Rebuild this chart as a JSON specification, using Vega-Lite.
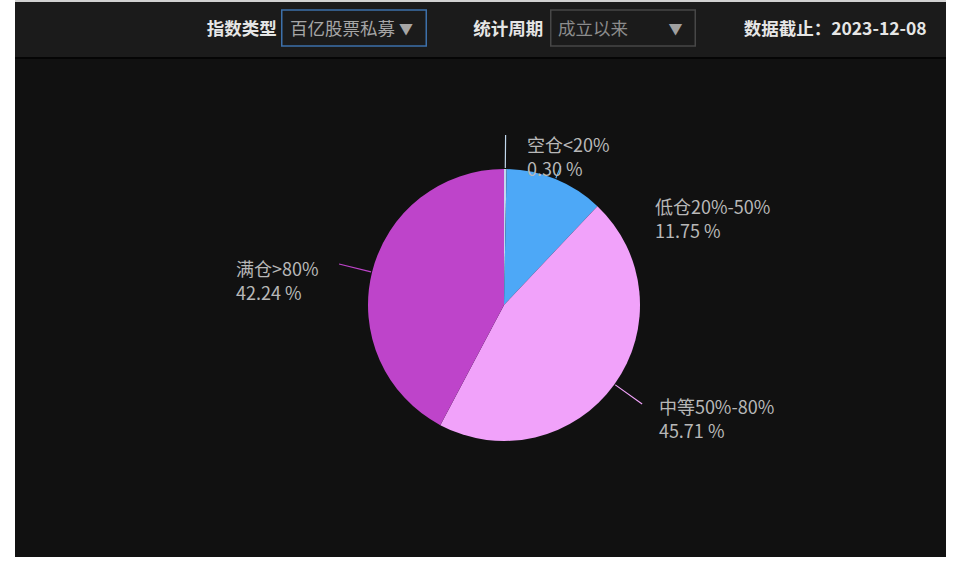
{
  "$schema": "https://vega.github.io/schema/vega-lite/v6.json",
  "background": "#ffffff",
  "padding": {"left": 15, "top": 0, "right": 14, "bottom": 9},
  "spacing": 0,
  "config": {
    "view": {"stroke": null},
    "concat": {"spacing": 0},
    "font": "Noto Sans CJK SC"
  },
  "datasets": {
    "positions": [
      {"idx": 1, "category": "空仓<20%", "pct": 0.30, "label": "空仓<20%\n0.30 %"},
      {"idx": 2, "category": "低仓20%-50%", "pct": 11.75, "label": "低仓20%-50%\n11.75 %"},
      {"idx": 3, "category": "中等50%-80%", "pct": 45.71, "label": "中等50%-80%\n45.71 %"},
      {"idx": 4, "category": "满仓>80%", "pct": 42.24, "label": "满仓>80%\n42.24 %"}
    ],
    "header": [
      {"id": "type_label", "text": "指数类型"},
      {"id": "type_value", "text": "百亿股票私募"},
      {"id": "type_arrow", "text": "▼"},
      {"id": "period_label", "text": "统计周期"},
      {"id": "period_value", "text": "成立以来"},
      {"id": "period_arrow", "text": "▼"},
      {"id": "date", "text": "数据截止：2023-12-08"}
    ]
  },
  "vconcat": [
    {
      "width": 931,
      "height": 2,
      "view": {"fill": "#d2d2d2"},
      "data": {"values": []},
      "mark": {"type": "point", "clip": true}
    },
    {
      "spacing": 0,
      "hconcat": [
        {
          "width": 266,
          "height": 55,
          "view": {"fill": "#1b1b1b"},
          "data": {"name": "header"},
          "transform": [{"filter": "datum.id === 'type_label'"}],
          "mark": {"type": "text", "clip": true, "align": "right", "baseline": "middle", "dx": 128.7, "fontSize": 17.5, "fontWeight": "bold", "color": "#e6e6e6"},
          "encoding": {"text": {"field": "text"}}
        },
        {
          "width": 146,
          "height": 55,
          "view": {"fill": "#1b1b1b"},
          "data": {"name": "header"},
          "layer": [
            {
              "transform": [{"filter": "datum.id === 'type_value'"}],
              "mark": {"type": "point", "clip": true, "shape": "M-1,-0.249H1V0.249H-1Z", "size": 20880, "filled": false, "opacity": 1, "color": "#3d70aa", "strokeWidth": 1.5, "yOffset": -1.5}
            },
            {
              "transform": [{"filter": "datum.id === 'type_value'"}],
              "mark": {"type": "text", "clip": true, "align": "left", "baseline": "middle", "dx": -64, "fontSize": 17.5, "color": "#a6a6a6"},
              "encoding": {"text": {"field": "text"}}
            },
            {
              "transform": [{"filter": "datum.id === 'type_arrow'"}],
              "mark": {"type": "text", "clip": true, "align": "center", "baseline": "middle", "dx": 52, "fontSize": 14, "color": "#a6a6a6"},
              "encoding": {"text": {"field": "text"}}
            }
          ]
        },
        {
          "width": 123,
          "height": 55,
          "view": {"fill": "#1b1b1b"},
          "data": {"name": "header"},
          "transform": [{"filter": "datum.id === 'period_label'"}],
          "mark": {"type": "text", "clip": true, "align": "right", "baseline": "middle", "dx": 54.8, "fontSize": 17.5, "fontWeight": "bold", "color": "#e6e6e6"},
          "encoding": {"text": {"field": "text"}}
        },
        {
          "width": 146,
          "height": 55,
          "view": {"fill": "#1b1b1b"},
          "data": {"name": "header"},
          "layer": [
            {
              "transform": [{"filter": "datum.id === 'period_value'"}],
              "mark": {"type": "point", "clip": true, "shape": "M-1,-0.249H1V0.249H-1Z", "size": 20880, "filled": false, "opacity": 1, "color": "#474747", "strokeWidth": 1.5, "yOffset": -1.5}
            },
            {
              "transform": [{"filter": "datum.id === 'period_value'"}],
              "mark": {"type": "text", "clip": true, "align": "left", "baseline": "middle", "dx": -65, "fontSize": 17.5, "color": "#8c8c8c"},
              "encoding": {"text": {"field": "text"}}
            },
            {
              "transform": [{"filter": "datum.id === 'period_arrow'"}],
              "mark": {"type": "text", "clip": true, "align": "center", "baseline": "middle", "dx": 52.5, "fontSize": 14, "color": "#a0a0a0"},
              "encoding": {"text": {"field": "text"}}
            }
          ]
        },
        {
          "width": 250,
          "height": 55,
          "view": {"fill": "#1b1b1b"},
          "data": {"name": "header"},
          "transform": [{"filter": "datum.id === 'date'"}],
          "mark": {"type": "text", "clip": true, "align": "right", "baseline": "middle", "dx": 105.7, "fontSize": 17.5, "fontWeight": "bold", "color": "#e6e6e6"},
          "encoding": {"text": {"field": "text"}}
        }
      ]
    },
    {
      "width": 931,
      "height": 2,
      "view": {"fill": "#050505"},
      "data": {"values": []},
      "mark": {"type": "point", "clip": true}
    },
    {
      "width": 931,
      "height": 498,
      "view": {"fill": "#111111"},
      "data": {"name": "positions"},
      "encoding": {
        "theta": {"field": "pct", "type": "quantitative", "stack": true},
        "order": {"field": "idx", "type": "quantitative"}
      },
      "layer": [
        {
          "mark": {"type": "arc", "outerRadius": 136, "xOffset": 23.5, "yOffset": -3},
          "encoding": {
            "color": {
              "field": "category",
              "type": "nominal",
              "scale": {
                "domain": ["空仓<20%", "低仓20%-50%", "中等50%-80%", "满仓>80%"],
                "range": ["#c2d8ee", "#4da8f7", "#f1a2fa", "#be44ca"]
              },
              "legend": null
            }
          }
        },
        {
          "mark": {"type": "arc", "innerRadius": 137, "outerRadius": 170, "padAngle": 3.1416, "filled": false, "strokeWidth": 1.2, "xOffset": 23.5, "yOffset": -3},
          "encoding": {
            "color": {"field": "category", "type": "nominal", "legend": null},
            "strokeOpacity": {"condition": {"test": "datum.idx !== 2", "value": 1}, "value": 0}
          }
        },
        {
          "mark": {"type": "arc", "innerRadius": 137, "outerRadius": 150, "padAngle": 3.1416, "filled": false, "strokeWidth": 1.2, "xOffset": 23.5, "yOffset": -3},
          "encoding": {
            "color": {"field": "category", "type": "nominal", "legend": null},
            "strokeOpacity": {"condition": {"test": "datum.idx === 2", "value": 1}, "value": 0}
          }
        },
        {
          "mark": {"type": "text", "radius": 175, "align": "left", "baseline": "top", "lineBreak": "\n", "lineHeight": 24, "fontSize": 18, "color": "#b8b8b8", "xOffset": 23.5, "yOffset": -3, "dx": 21.4, "dy": 7.5},
          "encoding": {
            "detail": {"field": "category"},
            "text": {"condition": {"test": "datum.idx === 1", "field": "label"}, "value": ""}
          }
        },
        {
          "mark": {"type": "text", "radius": 175, "align": "left", "baseline": "top", "lineBreak": "\n", "lineHeight": 24, "fontSize": 18, "color": "#b8b8b8", "xOffset": 23.5, "yOffset": -3, "dx": 84.8, "dy": 56.5},
          "encoding": {
            "detail": {"field": "category"},
            "text": {"condition": {"test": "datum.idx === 2", "field": "label"}, "value": ""}
          }
        },
        {
          "mark": {"type": "text", "radius": 175, "align": "left", "baseline": "top", "lineBreak": "\n", "lineHeight": 24, "fontSize": 18, "color": "#b8b8b8", "xOffset": 23.5, "yOffset": -3, "dx": 12.7, "dy": -7.4},
          "encoding": {
            "detail": {"field": "category"},
            "text": {"condition": {"test": "datum.idx === 3", "field": "label"}, "value": ""}
          }
        },
        {
          "mark": {"type": "text", "radius": 175, "align": "left", "baseline": "top", "lineBreak": "\n", "lineHeight": 24, "fontSize": 18, "color": "#b8b8b8", "xOffset": 23.5, "yOffset": -3, "dx": -98.2, "dy": -0.3},
          "encoding": {
            "detail": {"field": "category"},
            "text": {"condition": {"test": "datum.idx === 4", "field": "label"}, "value": ""}
          }
        }
      ]
    }
  ]
}
